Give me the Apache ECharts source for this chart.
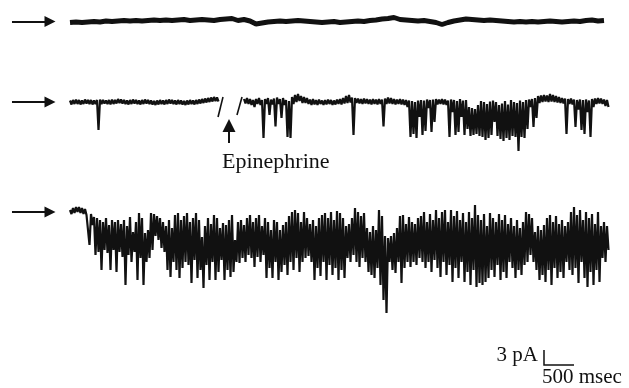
<!DOCTYPE html>
<html>
<head>
<meta charset="utf-8">
<script src="https://cdn.jsdelivr.net/npm/echarts@6/dist/echarts.min.js"></script>
<style>
  html, body { margin: 0; padding: 0; background: #fff; }
  #chart { width: 629px; height: 388px; }
</style>
</head>
<body>
<div id="chart"></div>
<script>
  // current in pA relative to the closed level
  // trace 1 (control): one sample every 100 ms
  const trace1 = [
    -0.2,-0.1,-0.2,-0.1,0.0,-0.1,0.1,0.0,0.1,0.2,
    0.1,0.2,0.1,0.2,0.3,0.2,0.3,0.2,0.3,0.4,
    0.2,0.3,0.4,0.3,0.2,0.4,0.5,0.6,0.2,0.4,
    0.1,-0.5,-0.3,-0.1,0.0,0.1,0.0,0.1,0.2,0.1,
    0.0,-0.1,-0.2,-0.1,0.0,-0.2,-0.1,0.0,0.1,0.0,
    0.2,0.3,0.5,0.6,0.8,0.4,0.3,0.2,0.1,0.2,
    0.0,-0.2,-0.6,-0.2,0.1,0.3,0.5,0.4,0.3,0.2,
    0.3,0.2,0.1,0.0,-0.1,0.0,-0.1,0.0,-0.1,0.0,
    0.1,0.0,-0.1,0.0,0.1,0.0,0.2,0.3,0.1,0.2
  ];

  // traces 2 and 3: top / bottom of the record in each 50 ms bin
  const trace2aHi = [
    0.3,0.4,0.5,0.4,0.3,0.5,0.4,0.4,0.3,0.4,
    0.5,0.4,0.3,0.4,0.5,0.4,0.6,0.5,0.4,0.3,
    0.4,0.5,0.4,0.3,0.4,0.5,0.4,0.3,0.2,0.3,
    0.4,0.3,0.4,0.5,0.4,0.3,0.4,0.3,0.2,0.3,
    0.4,0.3,0.4,0.5,0.6,0.7,0.8,0.9,1.0,0.9
  ];
  const trace2aLo = [
    -0.5,-0.4,-0.4,-0.5,-0.4,-0.3,-0.4,-0.5,-0.4,-5.6,
    -0.4,-0.3,-0.4,-0.5,-0.4,-0.3,-0.2,-0.3,-0.4,-0.5,
    -0.4,-0.3,-0.4,-0.5,-0.4,-0.3,-0.4,-0.5,-0.6,-0.5,
    -0.4,-0.5,-0.4,-0.3,-0.4,-0.5,-0.4,-0.5,-0.6,-0.5,
    -0.4,-0.5,-0.4,-0.3,-0.2,-0.1,0.0,0.1,0.2,0.1
  ];
  // after epinephrine
  const trace2bHi = [
    0.6,0.8,0.6,0.4,0.6,0.8,0.4,0.6,0.8,0.5,
    0.7,0.9,0.6,0.8,0.4,0.2,1.0,1.4,1.6,1.2,
    1.0,0.8,0.5,0.6,0.4,0.5,0.3,0.4,0.5,0.4,
    0.3,0.5,0.6,0.8,1.2,1.4,0.9,0.8,0.7,0.6,
    0.7,0.6,0.5,0.6,0.5,0.6,0.5,0.7,0.9,0.8,
    0.6,0.5,0.6,0.5,0.4,0.3,0.2,0.0,0.3,0.4,
    0.3,0.5,0.4,0.5,0.6,0.5,0.6,0.5,0.3,0.5,
    0.4,0.2,0.6,0.3,0.4,-1.0,-1.2,-1.4,-0.6,0.2,
    0.0,-0.4,0.1,0.3,0.0,-0.6,-0.3,0.2,-0.5,0.4,
    0.0,-0.2,0.3,0.0,0.4,0.5,0.6,0.8,1.2,1.3,
    1.4,1.3,1.6,1.4,1.2,1.0,0.8,0.7,0.6,0.7,
    0.5,0.4,0.5,0.4,0.5,0.3,0.6,0.7,0.8,0.7,
    0.5,0.4
  ];
  const trace2bLo = [
    -0.3,-0.4,-0.6,-1.0,-0.4,-0.6,-7.2,-0.4,-2.6,-0.5,
    -4.9,-0.4,-3.2,-0.6,-7.0,-7.2,-0.4,0.0,0.2,-0.2,
    -0.2,-0.4,-0.6,-0.5,-0.6,-0.4,-0.6,-0.5,-0.4,-0.6,
    -0.5,-0.4,-0.5,-0.3,-0.2,-0.1,-6.6,-0.2,-0.3,-0.4,
    -0.3,-0.4,-0.5,-0.4,-0.5,-0.4,-4.9,-0.4,-0.3,-0.4,
    -0.5,-0.4,-0.5,-0.6,-1.0,-7.0,-6.4,-7.2,-3.0,-6.6,
    -5.8,-1.2,-6.0,-4.0,-0.5,-0.4,-0.5,-0.6,-7.0,-2.0,
    -6.6,-6.0,-3.0,-6.6,-5.4,-6.8,-6.6,-6.4,-6.8,-7.0,
    -7.6,-7.2,-6.6,-4.0,-6.8,-7.4,-7.8,-7.2,-7.6,-6.8,
    -7.0,-9.8,-7.0,-7.2,-5.4,-1.0,-5.0,-3.2,-0.2,0.0,
    0.1,0.0,0.1,0.0,-0.1,-0.2,-0.3,-6.4,-0.4,-0.5,
    -5.0,-1.5,-5.6,-6.4,-2.0,-7.0,-1.0,-0.4,-0.3,-0.4,
    -0.8,-1.0
  ];
  const trace3Hi = [
    0.4,0.8,1.0,1.0,0.8,0.6,-0.2,-0.4,-1.0,-1.2,
    -1.6,-2.0,-1.2,-2.6,-1.6,-2.0,-1.6,-2.4,-1.6,-2.8,
    -1.0,-4.0,-2.0,-0.2,-1.2,-4.2,-3.6,-0.2,-0.4,-0.8,
    -1.2,-2.0,-2.8,-1.6,-3.2,-0.6,-0.2,-1.6,-0.8,-0.2,
    -2.0,-1.2,-0.2,-1.6,-5.0,-2.8,-1.2,-2.4,-0.6,-1.2,
    -3.2,-2.2,-2.6,-1.6,-0.6,-5.6,-2.0,-1.6,-2.6,-1.2,
    -0.6,-2.0,-1.2,-0.6,-2.8,-1.2,-2.0,-3.6,-1.6,-2.0,
    -3.6,-2.6,-2.0,-0.8,0.0,0.4,-0.2,-2.0,0.0,-1.2,
    -2.4,-1.6,-2.8,-1.2,-0.6,-0.2,-1.2,0.0,-1.6,0.2,
    -0.2,-1.2,-2.8,-2.4,-1.2,0.8,0.0,-0.8,-0.2,-3.2,
    -4.0,-2.8,-3.6,0.4,-0.8,-4.8,-5.2,-4.8,-4.2,-3.2,
    -0.8,-0.6,-2.4,-1.0,-2.0,-2.4,-1.2,-0.8,0.0,-2.0,
    -0.4,-1.6,0.4,-1.2,0.0,0.4,-2.0,0.4,-0.8,0.2,
    -1.6,-0.2,-2.0,0.0,-1.2,1.4,-0.6,-1.6,-0.4,-2.8,
    -0.2,-1.2,-2.0,-0.4,-1.6,-0.6,-2.4,-1.2,-2.8,-1.6,
    -3.2,-2.0,0.0,-0.4,-1.2,-4.0,-2.8,-3.6,-2.6,-1.2,
    -0.6,-2.0,-0.8,-2.4,-1.6,-2.8,-2.0,0.0,1.0,-0.6,
    0.4,-1.6,0.0,-1.2,-0.4,-2.4,0.0,-2.8,-2.0,-2.8
  ];
  const trace3Lo = [
    -0.4,-0.2,0.0,-0.2,-0.4,-0.6,-6.6,-2.6,-8.6,-8.0,
    -11.6,-7.6,-8.2,-11.6,-7.6,-12.0,-8.0,-9.0,-14.6,-8.6,
    -10.0,-8.0,-13.6,-9.2,-14.6,-10.0,-9.2,-7.6,-4.8,-5.6,
    -7.2,-8.0,-11.6,-13.0,-10.0,-11.6,-13.2,-11.2,-10.0,-10.6,
    -14.2,-9.6,-13.2,-11.6,-15.2,-10.6,-13.6,-10.0,-13.6,-12.0,
    -9.6,-13.6,-11.6,-13.0,-12.0,-10.0,-10.2,-9.2,-10.0,-8.6,
    -9.2,-11.0,-9.0,-10.0,-8.6,-13.2,-11.2,-13.2,-10.0,-13.6,
    -12.0,-10.6,-12.6,-10.0,-11.6,-9.2,-12.0,-10.0,-9.2,-8.8,
    -10.0,-13.6,-11.2,-12.8,-10.0,-13.6,-10.6,-12.6,-11.2,-13.6,
    -11.6,-13.2,-9.2,-10.0,-8.6,-10.0,-11.0,-9.2,-10.0,-12.0,
    -12.6,-13.2,-11.2,-14.6,-17.6,-20.2,-10.0,-11.6,-12.2,-10.0,
    -14.2,-11.2,-10.0,-11.0,-10.0,-10.6,-9.2,-10.0,-11.2,-10.0,
    -12.0,-9.6,-11.2,-13.0,-10.0,-12.6,-10.6,-14.0,-11.2,-13.2,
    -10.0,-14.0,-12.0,-14.6,-11.6,-15.0,-14.2,-14.6,-14.0,-13.2,
    -11.6,-13.0,-10.6,-13.6,-12.0,-13.2,-10.0,-11.2,-13.2,-11.6,
    -12.6,-10.6,-10.0,-8.6,-10.0,-11.6,-13.6,-12.6,-14.0,-11.6,
    -14.6,-11.2,-13.2,-12.0,-13.2,-10.0,-11.6,-12.6,-11.2,-14.2,
    -10.0,-13.2,-15.0,-12.0,-14.6,-11.6,-14.0,-9.2,-10.0,-7.6
  ];

  const sampleMs = 100;
  const binMs = 50;
  const trace2bStart = 2900;   // ms, record resumes after the break
  const scaleBarPA = 3;
  const scaleBarMs = 500;

  // layout: vertical position of each closed level (pA on a 5 px/pA page)
  const level1 = -4.3, level2 = -20.4, level3 = -42.4;
  const col = '#111';

  function zigzag(hi, lo, start, offset) {
    let pts = [];
    for (let k = 0; k < hi.length; k++) {
      let t = start + k * binMs;
      pts.push([t, offset + hi[k]]);
      pts.push([t + binMs / 2, offset + lo[k]]);
    }
    return pts;
  }

  let chart = echarts.init(document.getElementById('chart'), null, {renderer: 'canvas'});

  let traceStyle = {
    type: 'line', showSymbol: false, symbol: 'none', silent: true,
    animation: false, sampling: null,
    lineStyle: {color: col, width: 2.2}
  };

  let option = {
    backgroundColor: '#fff',
    animation: false,
    grid: {left: 0, right: 0, top: 0, bottom: 0, containLabel: false},
    xAxis: {type: 'value', min: -1166.7, max: 9316.7, show: false},
    yAxis: {type: 'value', min: -77.6, max: 0, show: false},
    series: [
      Object.assign({}, traceStyle, {
        data: trace1.map((v, i) => [i * sampleMs, level1 + v]),
        lineStyle: {color: col, width: 5}
      }),
      Object.assign({}, traceStyle, {data: zigzag(trace2aHi, trace2aLo, 0, level2)}),
      Object.assign({}, traceStyle, {data: zigzag(trace2bHi, trace2bLo, trace2bStart, level2)}),
      Object.assign({}, traceStyle, {data: zigzag(trace3Hi, trace3Lo, 0, level3)}),
      {
        // arrows marking the closed level
        type: 'lines', coordinateSystem: 'cartesian2d', silent: true, animation: false,
        symbol: ['none', 'triangle'], symbolSize: [15, 11],
        lineStyle: {color: col, width: 2, opacity: 1, curveness: 0},
        itemStyle: {color: col},
        data: [level1, level2, level3].map(b => ({coords: [[-967, b], [-333, b]]}))
      },
      {
        // epinephrine arrow
        type: 'lines', coordinateSystem: 'cartesian2d', silent: true, animation: false,
        symbol: ['none', 'triangle'], symbolSize: [14, 13],
        lineStyle: {color: col, width: 2, opacity: 1},
        itemStyle: {color: col},
        data: [{coords: [[2650, -28.6], [2650, -25.1]]}]
      },
      {
        // break marks
        type: 'lines', coordinateSystem: 'cartesian2d', silent: true, animation: false,
        symbol: 'none',
        lineStyle: {color: col, width: 1.6, opacity: 1},
        data: [
          {coords: [[2467, -23.4], [2550, -19.4]]},
          {coords: [[2783, -23.0], [2867, -19.4]]}
        ]
      },
      {
        // scale bar
        type: 'lines', coordinateSystem: 'cartesian2d', polyline: true, silent: true, animation: false,
        symbol: 'none',
        lineStyle: {color: col, width: 1.5, opacity: 1},
        data: [{coords: [[7900, -70], [7900, -70 - scaleBarPA], [7900 + scaleBarMs, -70 - scaleBarPA]]}]
      }
    ],
    graphic: [
      {type: 'text', x: 222, y: 162, silent: true,
        style: {text: 'Epinephrine', font: '22px "Liberation Serif"', fill: col, textAlign: 'left', textVerticalAlign: 'middle'}},
      {type: 'text', x: 538, y: 355, silent: true,
        style: {text: scaleBarPA + ' pA', font: '21px "Liberation Serif"', fill: col, textAlign: 'right', textVerticalAlign: 'middle'}},
      {type: 'text', x: 542, y: 377, silent: true,
        style: {text: scaleBarMs + ' msec', font: '21px "Liberation Serif"', fill: col, textAlign: 'left', textVerticalAlign: 'middle'}}
    ]
  };
  chart.setOption(option);
</script>
</body>
</html>
